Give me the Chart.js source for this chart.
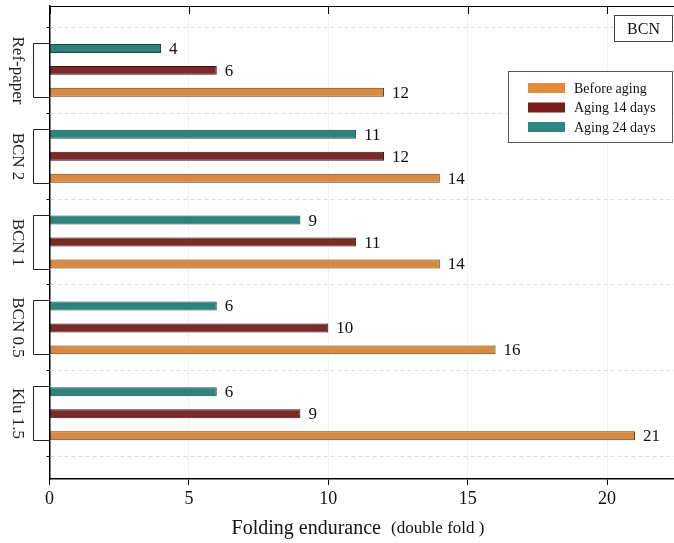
<!DOCTYPE html>
<html>
<head>
<meta charset="utf-8">
<script src="https://cdn.jsdelivr.net/npm/chart.js@4/dist/chart.umd.min.js"></script>
<style>
  html, body { margin: 0; padding: 0; background: #fff; }
  #wrap { width: 674px; height: 543px; }
</style>
</head>
<body>
<div id="wrap"><canvas id="chart"></canvas></div>
<script>
// Folding endurance - BCN samples
const categories = ['Ref-paper', 'BCN 2', 'BCN 1', 'BCN 0.5', 'Klu 1.5'];
const beforeAging = [12, 14, 14, 16, 21];
const aging14 = [6, 12, 11, 10, 9];
const aging24 = [4, 11, 9, 6, 6];
const xTicks = [0, 5, 10, 15, 20];

const SERIF = '"Liberation Serif", "DejaVu Serif", serif';

// bars sit at y = 1..5 on a linear index axis
const toPoints = arr => arr.map((v, i) => ({ x: v, y: i + 1 }));

// 標籤、括號、圖例、外框
const decorPlugin = {
    id: 'decor',
    afterDraw(chart) {
        const { ctx, chartArea: a, scales } = chart;
        const xs = scales.x;
        ctx.save();

        // top frame line + inward ticks
        ctx.strokeStyle = '#000';
        ctx.lineWidth = 1.2;
        ctx.beginPath();
        ctx.moveTo(a.left, a.top + 0.5);
        ctx.lineTo(a.right, a.top + 0.5);
        ctx.stroke();
        ctx.lineWidth = 1;
        xTicks.forEach(t => {
            const px = Math.round(xs.getPixelForValue(t)) + 0.5;
            ctx.beginPath();
            ctx.moveTo(px, a.top);
            ctx.lineTo(px, a.top + 8);
            ctx.stroke();
        });

        // value labels at the bar ends
        ctx.fillStyle = '#111';
        ctx.font = '17px ' + SERIF;
        ctx.textBaseline = 'middle';
        ctx.textAlign = 'left';
        chart.data.datasets.forEach((ds, di) => {
            chart.getDatasetMeta(di).data.forEach((bar, i) => {
                ctx.fillText(String(ds.data[i].x), bar.x + 8, bar.y + 1);
            });
        });

        // category brackets and rotated names
        const first = chart.getDatasetMeta(0).data;
        const last = chart.getDatasetMeta(chart.data.datasets.length - 1).data;
        ctx.strokeStyle = '#222';
        ctx.lineWidth = 1;
        categories.forEach((c, i) => {
            const top = Math.round(first[i].y - first[i].height / 2) - 0.5;
            const bot = Math.round(last[i].y + last[i].height / 2) + 0.5;
            ctx.beginPath();
            ctx.moveTo(a.left, top);
            ctx.lineTo(33.5, top);
            ctx.lineTo(33.5, bot);
            ctx.lineTo(a.left, bot);
            ctx.stroke();
            ctx.save();
            ctx.translate(17, (top + bot) / 2);
            ctx.rotate(Math.PI / 2);
            ctx.font = '17px ' + SERIF;
            ctx.fillStyle = '#222';
            ctx.textAlign = 'center';
            ctx.textBaseline = 'middle';
            ctx.fillText(c, 0, 0);
            ctx.restore();
        });

        // BCN box
        ctx.fillStyle = '#fff';
        ctx.fillRect(614, 15, 59, 27);
        ctx.strokeStyle = '#444';
        ctx.strokeRect(614.5, 15.5, 58, 26);
        ctx.fillStyle = '#111';
        ctx.font = '16px ' + SERIF;
        ctx.textAlign = 'center';
        ctx.fillText('BCN', 643.5, 29.5);

        // legend box
        ctx.fillStyle = '#fff';
        ctx.fillRect(508, 71, 165, 72);
        ctx.strokeStyle = '#555';
        ctx.strokeRect(508.5, 71.5, 164, 71);
        const legendItems = chart.data.datasets.slice().reverse();
        ctx.font = '14px ' + SERIF;
        ctx.textAlign = 'left';
        legendItems.forEach((ds, k) => {
            const cy = 88 + k * 19.5;
            ctx.fillStyle = ds.legendColor;
            ctx.fillRect(528, cy - 5, 37, 10);
            ctx.fillStyle = '#111';
            ctx.fillText(ds.label, 574, cy + 1);
        });

        // axis title, two sizes
        const t1 = 'Folding endurance';
        const t2 = '(double fold )';
        ctx.font = '20px ' + SERIF;
        const w1 = ctx.measureText(t1).width;
        ctx.font = '17px ' + SERIF;
        const w2 = ctx.measureText(t2).width;
        const gap = 10;
        let x0 = 358 - (w1 + gap + w2) / 2;
        ctx.textBaseline = 'alphabetic';
        ctx.fillStyle = '#111';
        ctx.font = '20px ' + SERIF;
        ctx.fillText(t1, x0, 534);
        ctx.font = '17px ' + SERIF;
        ctx.fillText(t2, x0 + w1 + gap, 533);

        ctx.restore();
    }
};

const ctx = document.getElementById('chart').getContext('2d');
new Chart(ctx, {
    type: 'bar',
    data: {
        datasets: [
            {
                label: 'Aging 24 days',
                data: toPoints(aging24),
                backgroundColor: '#2F827C',
                borderColor: '#1d4744',
                legendColor: '#2E8683'
            },
            {
                label: 'Aging 14 days',
                data: toPoints(aging14),
                backgroundColor: '#7B2A2C',
                borderColor: '#3a1112',
                legendColor: '#7A1C1C'
            },
            {
                label: 'Before aging',
                data: toPoints(beforeAging),
                backgroundColor: '#D98A40',
                borderColor: '#5e3814',
                legendColor: '#E48A3C'
            }
        ]
    },
    options: {
        indexAxis: 'y',
        responsive: true,
        maintainAspectRatio: false,
        devicePixelRatio: 1,
        animation: false,
        categoryPercentage: 66 / 86,
        barPercentage: 9 / 22,
        datasets: {
            bar: { borderWidth: 1, borderSkipped: false }
        },
        layout: { padding: { top: 6, right: 0, bottom: 0, left: 0 } },
        plugins: {
            legend: { display: false },
            tooltip: { enabled: false }
        },
        scales: {
            x: {
                type: 'linear',
                min: 0,
                max: 22.4,
                afterFit: s => { s.height = 64; },
                afterBuildTicks: s => { s.ticks = xTicks.map(v => ({ value: v })); },
                ticks: {
                    includeBounds: false,
                    color: '#111',
                    padding: 3,
                    font: { family: SERIF, size: 18 }
                },
                grid: {
                    color: 'rgba(0,0,0,0.05)',
                    tickColor: '#000',
                    tickLength: 6
                },
                border: { color: '#000', width: 1.5 }
            },
            y: {
                type: 'linear',
                reverse: true,
                offset: false,
                min: 0.25,
                max: 5.76,
                afterFit: s => { s.width = 49.5; },
                afterBuildTicks: s => {
                    s.ticks = [0.5, 1.5, 2.5, 3.5, 4.5, 5.5].map(v => ({ value: v }));
                },
                ticks: { display: false },
                grid: {
                    offset: false,
                    color: '#dcdcdc',
                    tickColor: '#000',
                    tickLength: 3
                },
                border: { color: '#000', width: 1.5, dash: [4, 3] }
            }
        }
    },
    plugins: [decorPlugin]
});
</script>
</body>
</html>
